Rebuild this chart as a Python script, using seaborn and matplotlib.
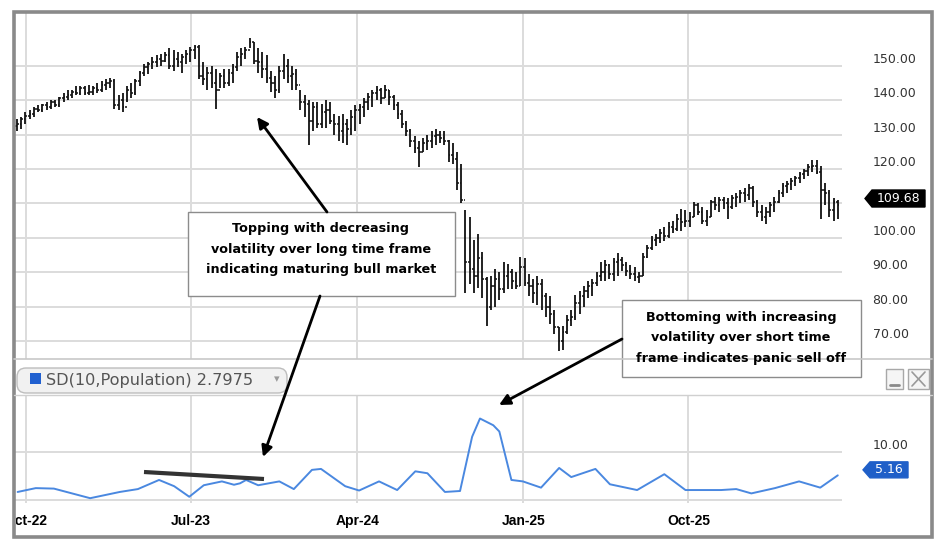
import pandas as pd
import matplotlib
matplotlib.use('Agg')
import matplotlib.pyplot as plt
import matplotlib.dates as mdates
from matplotlib.patches import Rectangle, FancyBboxPatch, Polygon
from matplotlib.transforms import Bbox, TransformedBbox
import seaborn as sns

# weekly price bars (high / low / close), first week ending 2022-09-16
start_week = '2022-09-16'
first_open = 132.5
highs = [134.5, 135, 136.5, 137, 138, 138.5, 139, 139.5, 140, 140, 141, 142, 143, 143, 144, 144, 144, 144.5, 144, 145,
         145.5, 146, 146.5, 146, 141.5, 142, 144, 145, 146, 148.5, 150.5, 151, 152.5, 153, 153.5, 154, 155, 154.5, 154, 153.5,
         154.5, 155.5, 156, 156, 151, 149.5, 150, 149, 148, 149, 149, 150.5, 154, 155, 155.5, 158, 157, 155, 154, 153,
         148.5, 147, 150, 153.5, 152, 150, 149, 143, 141.5, 140, 139.5, 139.5, 139, 140, 139.5, 136, 135.5, 136, 134.5, 137,
         138.5, 139, 140.5, 142, 143, 144, 143.5, 144.5, 143, 141.5, 139.5, 137, 134, 131.5, 129.5, 128, 129, 130, 131, 131.5,
         131, 131, 128.5, 127.5, 125, 121.5, 108, 106, 99.5, 101, 96, 88.5, 89, 91, 90, 93, 92.5, 91, 90, 94.5,
         94, 89.5, 88, 89, 88, 84, 83, 79, 74, 74.5, 77.5, 79, 83.5, 84.5, 86, 87.5, 88, 90, 93, 93.5,
         92.5, 94, 95.5, 94.5, 93, 92, 91.5, 90, 95.5, 98, 100.5, 101, 102.5, 103, 104.5, 105, 107, 108.5, 108, 107.5,
         110.5, 110, 109, 108, 111, 112, 112, 112, 111.5, 112.5, 113, 114, 114.5, 115.5, 115, 111, 109.5, 109, 110.5, 112,
         114, 116, 116.5, 117.5, 118, 119, 120, 121.5, 122.5, 122.5, 121, 116, 114, 111.5, 111]
lows = [131, 131.5, 133, 134.5, 135, 136.5, 136.5, 137, 137.5, 138, 138, 139.5, 140, 140.5, 141.5, 141.5, 141.5, 141.5, 141.5, 142,
        142.5, 143, 143.5, 137.5, 137, 136.5, 139.5, 140.5, 141.5, 144, 147, 147.5, 149, 149.5, 150, 151, 149, 148.5, 149.5, 148,
        150.5, 151, 152, 146, 144.5, 143, 143.5, 137.5, 143.5, 143.5, 144, 145, 148.5, 150, 152, 155, 150.5, 148, 146.5, 145,
        142.5, 140.5, 142, 146, 145, 143, 143, 137, 135, 127, 131, 132, 132, 132, 133, 130, 128, 127.5, 127, 130,
        131, 133, 135, 137, 138, 140, 139, 140.5, 138.5, 137, 134.5, 132, 129.5, 126.5, 124.5, 120.5, 125, 125.5, 126, 127,
        127.5, 127, 122, 121.5, 114, 110, 84, 86.5, 84, 85.5, 82.5, 74.5, 79, 80, 82, 84, 85, 85, 85, 86,
        86, 83, 81, 80.5, 79, 77, 75, 72, 67, 67.5, 72, 74.5, 76, 78, 80, 82.5, 83, 86, 87.5, 87.5,
        88, 87.5, 89, 90.5, 89, 88, 87.5, 87, 89, 94, 96.5, 97.5, 98.5, 99, 100, 101.5, 102, 102, 103, 103,
        106, 106.5, 104, 103.5, 106, 108, 107.5, 108.5, 105.5, 108.5, 109, 110, 110.5, 111, 109, 106, 105, 104, 106, 107.5,
        110, 112, 113, 114, 115, 116, 117, 118, 119, 118.5, 105.5, 109.5, 106, 105, 105.5]
closes = [133, 134.5, 135.5, 136, 137.5, 137, 138.5, 138, 139.5, 138.5, 140.5, 141, 141.5, 142.5, 142, 143.5, 142, 142.5, 143.5, 143,
          144.5, 145, 145.5, 138.5, 140, 138, 143, 142, 145.5, 148, 149.5, 150.5, 151, 152, 151.5, 153, 150, 152, 151, 152.5,
          153.5, 154.5, 155.5, 147, 146, 148, 145, 143, 147, 145, 148, 149.5, 152.5, 153.5, 154.5, 157, 151.5, 151, 149, 146.5,
          145, 143, 148.5, 150, 147, 147.5, 144.5, 139.5, 139, 134, 138, 133, 136.5, 137, 134, 133, 131, 133, 131.5, 135,
          137, 138, 139.5, 141, 142, 143, 140.5, 143, 141, 138.5, 136, 133, 131, 128, 126, 125, 127.5, 128, 129.5, 130,
          129, 128, 124, 123, 116, 111, 93, 91, 89, 94, 88, 80, 86, 88, 85, 89, 90, 87.5, 86, 91.5,
          87, 86, 84, 86.5, 83, 80, 78, 74, 70, 72.5, 76, 77, 81, 83, 84.5, 86, 87, 89, 90, 92,
          89.5, 93, 93.5, 92, 90.5, 89.5, 88.5, 89, 94.5, 97, 99.5, 100, 101.5, 100.5, 103, 102.5, 105.5, 104.5, 105, 106,
          109.5, 107.5, 105, 106, 110.5, 109.5, 111, 110, 109, 111.5, 112, 113, 112.5, 114.5, 110.5, 107.5, 106, 107.5, 109.5, 110.5,
          113, 115, 115.5, 116.5, 117.5, 118.5, 119.5, 120.5, 121, 119, 114, 113, 108, 110.5, 109.68]

# SD(10, Population) readings
sd_dates = ['2022-09-17', '2022-10-17', '2022-11-16', '2022-12-16', '2023-01-15', '2023-03-05', '2023-04-04', '2023-05-09',
            '2023-06-03', '2023-06-28', '2023-07-22', '2023-08-21', '2023-09-10', '2023-09-20', '2023-09-30', '2023-10-20',
            '2023-11-24', '2023-12-18', '2024-01-17', '2024-02-01', '2024-03-12', '2024-04-04', '2024-05-07',
            '2024-06-06', '2024-07-06', '2024-07-26', '2024-08-24', '2024-09-18', '2024-10-08', '2024-10-21',
            '2024-11-12', '2024-11-22', '2024-12-12', '2024-12-31', '2025-01-30', '2025-03-01', '2025-03-21',
            '2025-04-30', '2025-05-24', '2025-07-08', '2025-08-22', '2025-09-26', '2025-11-24', '2025-12-19',
            '2026-01-13', '2026-02-21', '2026-04-02', '2026-05-07', '2026-06-05']
sd_values = [1.7, 2.5, 2.4, 1.4, 0.4, 1.7, 2.3, 4.2, 2.9, 0.7, 3.1, 3.9, 3.2, 3.5, 4.2, 3.1, 3.9, 2.3, 6.3, 6.5, 2.9, 2.0,
             3.9, 2.1, 6.0, 5.6, 1.7, 1.9, 13.2, 17.0, 15.6, 14.3, 4.2, 3.9, 2.6, 6.7, 4.8, 6.5, 3.3, 2.1, 5.4, 2.1,
             2.1, 2.3, 1.4, 2.5, 3.9, 2.6, 5.16]

price_ticks = [70, 80, 90, 100, 110, 120, 130, 140, 150]
sd_ticks = [0, 10]
date_ticks = ['2022-10-01', '2023-07-01', '2024-04-01', '2025-01-01', '2025-10-01']
last_price = 109.68
last_sd = 5.16
sd_title = 'SD(10,Population) 2.7975'
note_top = 'Topping with decreasing\nvolatility over long time frame\nindicating maturing bull market'
note_bottom = 'Bottoming with increasing\nvolatility over short time\nframe indicates panic sell off'

W, H = 942, 550
sns.set_style('white')
plt.rcParams['font.family'] = ['DejaVu Sans']


def fx(px):
    return px / W


def fy(py):
    return 1 - py / H


fig = plt.figure(figsize=(W / 100, H / 100), dpi=100)
ax = fig.add_axes([fx(14), fy(359), fx(842) - fx(14), fy(12) - fy(359)])
ax2 = fig.add_axes([fx(14), fy(503), fx(842) - fx(14), fy(395) - fy(503)])

weeks = mdates.date2num(pd.date_range(start_week, periods=len(closes), freq='7D'))
opens = [first_open] + closes[:-1]
half = 2.8

# price bars
ax.vlines(weeks, lows, highs, color='#111111', lw=1.3, zorder=3)
ax.hlines(opens, weeks - half, weeks, color='#111111', lw=1.1, zorder=3)
ax.hlines(closes, weeks, weeks + half, color='#111111', lw=1.1, zorder=3)

# SD indicator
sd_df = pd.DataFrame({'date': pd.to_datetime(sd_dates), 'sd': sd_values})
sns.lineplot(data=sd_df, x='date', y='sd', ax=ax2, color='#4a88e0', lw=1.4, zorder=3)

xlo = mdates.datestr2num('2022-09-11')
xhi = mdates.datestr2num('2026-06-12')
tick_pos = [mdates.datestr2num(d) for d in date_ticks]
for a in (ax, ax2):
    a.set_xlim(xlo, xhi)
    a.set_xticks(tick_pos)
    a.grid(True, axis='both', color='#dcdcdc', lw=1.4)
    a.set_axisbelow(True)
    for s in a.spines.values():
        s.set_visible(False)
    a.set_xlabel('')
    a.set_ylabel('')
    a.yaxis.tick_right()
    a.tick_params(axis='y', length=0, pad=22, labelsize=9, labelcolor='#333333')
    a.tick_params(axis='x', length=0)

ax.set_ylim(64.8, 165.6)
ax.set_yticks(price_ticks)
# the last-price tag sits over the 110 label
ax.set_yticklabels(['' if t == 110 else f'{t:.2f}' for t in price_ticks])
ax.set_xticklabels([])

ax2.set_ylim(-0.6, 21.9)
ax2.set_yticks(sd_ticks)
ax2.set_yticklabels(['' if t == 0 else f'{t:.2f}' for t in sd_ticks])
ax2.xaxis.set_major_formatter(mdates.DateFormatter('%b-%y'))
ax2.tick_params(axis='x', pad=8)
clip = TransformedBbox(Bbox.from_extents(fx(16), 0, 1, 1), fig.transFigure)
for lab in ax2.get_xticklabels():
    lab.set_fontfamily('Liberation Sans')
    lab.set_fontweight('bold')
    lab.set_fontsize(10)
    lab.set_color('black')
    lab.set_clip_box(clip)
    lab.set_clip_on(True)
for a in (ax, ax2):
    for lab in a.get_yticklabels():
        lab.set_va('bottom')

# overlay in pixel coordinates for chrome and notes
ov = fig.add_axes([0, 0, 1, 1], zorder=10)
ov.set_xlim(0, W)
ov.set_ylim(H, 0)
ov.axis('off')
ov.patch.set_alpha(0)


def to_px(a, xv, yv):
    disp = a.transData.transform((xv, yv))
    return disp[0], H - disp[1]


# header strip of the indicator pane
ov.plot([14, 932], [359, 359], color='#c8c8c8', lw=1.2)
ov.plot([14, 932], [395, 395], color='#d0d0d0', lw=1.0)
ov.add_patch(FancyBboxPatch((17, 368), 270, 25, boxstyle='round,pad=0,rounding_size=9',
                            fc='#f1f1f1', ec='#bdbdbd', lw=1.0))
ov.add_patch(Rectangle((30, 373), 11, 11, fc='#2060d0', ec='none'))
ov.text(46, 381, sd_title, fontsize=11.6, color='#555555', va='center', ha='left')
ov.text(277, 379, '\u25be', fontsize=8, color='#9a9a9a', va='center', ha='center')
ov.add_patch(Rectangle((886, 369), 17, 20, fc='#f5f5f5', ec='#a8a8a8', lw=1.0))
ov.plot([890, 899], [385, 385], color='#8a8a8a', lw=2)
ov.add_patch(Rectangle((908, 369), 21, 20, fc='#f5f5f5', ec='#a8a8a8', lw=1.0))
ov.plot([912, 925], [372, 386], color='#9a9a9a', lw=1.2)
ov.plot([912, 925], [386, 372], color='#9a9a9a', lw=1.2)

# value tags
px_x, py_price = to_px(ax, xhi, last_price)
py_price -= 6
ov.add_patch(Polygon([(865, py_price), (872, py_price - 8.5), (925, py_price - 8.5),
                      (925, py_price + 8.5), (872, py_price + 8.5)], closed=True, fc='black', ec='black'))
ov.text(898, py_price, f'{last_price:.2f}', color='white', fontsize=9, ha='center', va='center')
_, py_sd = to_px(ax2, xhi, last_sd)
py_sd -= 5.5
ov.add_patch(Polygon([(863, py_sd), (870, py_sd - 8), (908, py_sd - 8),
                      (908, py_sd + 8), (870, py_sd + 8)], closed=True, fc='#1f5fc8', ec='#1f5fc8'))
ov.text(889, py_sd, f'{last_sd:.2f}', color='white', fontsize=9, ha='center', va='center')

# notes and arrows
arrow = dict(arrowstyle='-|>', lw=2.0, color='black', mutation_scale=16, shrinkA=0, shrinkB=0)
ov.annotate('', xy=(257, 117), xytext=(327, 212), arrowprops=arrow)
ov.annotate('', xy=(263, 457), xytext=(320, 296), arrowprops=arrow)
ov.annotate('', xy=(499, 405), xytext=(622, 339), arrowprops=arrow)
ov.plot([144, 264], [472, 479], color='#333333', lw=3, solid_capstyle='butt')

ov.add_patch(Rectangle((188, 212), 267, 84, fc='white', ec='#8c8c8c', lw=1.0))
ov.text(321, 249, note_top, ha='center', va='center', fontsize=9.2, fontweight='bold',
        linespacing=1.75, color='black')
ov.add_patch(Rectangle((622, 300), 239, 77, fc='white', ec='#8c8c8c', lw=1.0))
ov.text(741, 338, note_bottom, ha='center', va='center', fontsize=9.2, fontweight='bold',
        linespacing=1.75, color='black')

# outer frame
ov.add_patch(Rectangle((14, 12), 918, 525, fc='none', ec='#8a8a8a', lw=2.6))

fig.savefig('out.png', dpi=100)
